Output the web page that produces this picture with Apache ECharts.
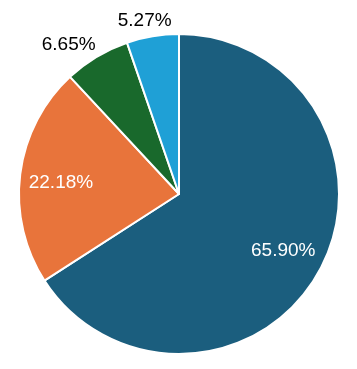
<!DOCTYPE html>
<html><head><meta charset="utf-8">
<script src="https://cdn.jsdelivr.net/npm/echarts@6/dist/echarts.min.js"></script>
<style>html,body{margin:0;padding:0;background:#fff}#c{width:357px;height:369px}</style>
</head><body><div id="c"></div>
<script>
const categories = ['A', 'B', 'C', 'D'];
const values = [65.90, 22.18, 6.65, 5.27];
const colors = ['#1b5e7e', '#e8743b', '#19692c', '#1fa0d6'];
const insideIdx = [0, 1];

// label nudges (style only)
const outerShift = {2: [7, -7], 3: [25, -10]};
const innerShift = {0: [-2, -1], 1: [2, 4]};

const chart = echarts.init(document.getElementById('c'), null, {renderer: 'canvas'});
const fmt = p => p.value.toFixed(2) + '%';
const base = {
  type: 'pie', center: [179, 194], startAngle: 90, clockwise: true,
  animation: false, avoidLabelOverlap: false, emphasis: {disabled: true}
};
const shifter = m => p => { const s = m[p.dataIndex]; return s ? {dx: s[0], dy: s[1]} : {}; };
chart.setOption({
  series: [
    Object.assign({}, base, {
      radius: [0, 160],
      itemStyle: {borderColor: '#fff', borderWidth: 2},
      label: {show: true, position: 'outside', formatter: fmt, color: '#000',
        fontFamily: 'Liberation Sans', fontSize: 19},
      labelLine: {show: false, length: 6, length2: 0},
      labelLayout: shifter(outerShift),
      data: categories.map((c, i) => ({
        name: c, value: values[i], itemStyle: {color: colors[i]},
        label: {show: insideIdx.indexOf(i) < 0}
      }))
    }),
    Object.assign({}, base, {
      radius: [76, 160], silent: true, z: 5,
      itemStyle: {color: 'transparent', borderWidth: 0},
      label: {show: true, position: 'inside', formatter: fmt, color: '#fff',
        fontFamily: 'Liberation Sans', fontSize: 19},
      labelLine: {show: false},
      labelLayout: shifter(innerShift),
      data: categories.map((c, i) => ({
        name: c, value: values[i],
        label: {show: insideIdx.indexOf(i) >= 0}
      }))
    })
  ]
});
</script></body></html>
